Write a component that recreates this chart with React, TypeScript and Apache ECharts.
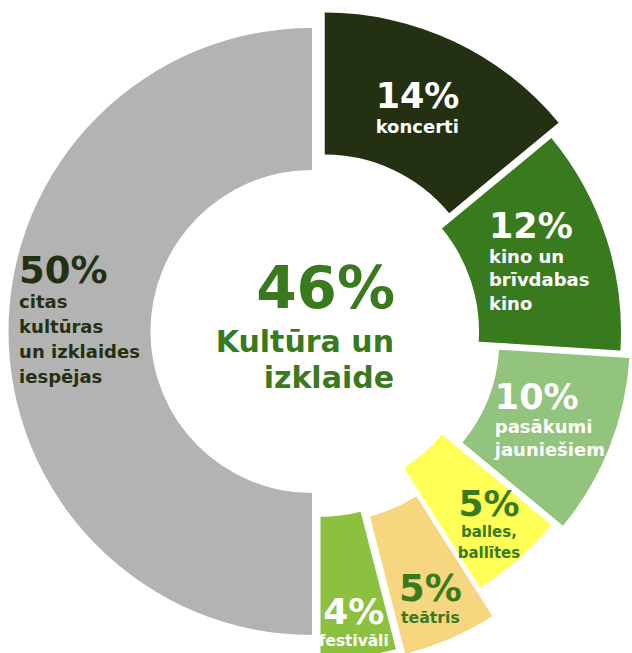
import React, { useEffect, useRef } from 'react';
import * as echarts from 'echarts';

// ---- data ----
const categories = [
  'koncerti',
  'kino un\nbrīvdabas\nkino',
  'pasākumi\njauniešiem',
  'balles,\nballītes',
  'teātris',
  'festivāli',
  'citas\nkultūras\nun izklaides\niespējas',
];
const shares = [14, 12, 10, 5, 5, 4, 50];
const centerShare = 46;
const centerTitle = ['Kultūra un', 'izklaide'];

// ---- styles ----
const colors = ['#243012', '#3a7a1f', '#93c47d', '#ffff55', '#f6d67e', '#8cc13f', '#b3b3b3'];
const labelColors = ['#ffffff', '#ffffff', '#ffffff', '#3a7a1f', '#3a7a1f', '#ffffff', '#243012'];
const offsets = [17, 0, 22, 0, 31, 24, 5.5];
const outerR = [303.5, 303.5, 292, 303.5, 303.5, 303.5, 303.5];
const lineAlign = ['left', 'left', 'left', 'center', 'center', 'center', 'left'];
const pctSize = [35, 35, 35, 36, 37, 36, 37];
const txtSize = [18, 18, 18, 15, 15.7, 15.4, 18];
const txtLH = [23.5, 23.5, 23, 20.7, 21.7, 21.3, 25];
const shift = [
  [-7.5, 5],
  [-2.3, 2.5],
  [-1.7, -4.5],
  [15.7, 15.8],
  [7.1, 23.3],
  [3.7, 33.2],
  [3, -11.5],
];
const FONT = '"DejaVu Sans", sans-serif';

function buildOption(): any {
  const series = shares.map((_, k) => {
    const [sx, sy] = shift[k];
    const padding = [Math.max(0, 2 * sy), Math.max(0, -2 * sx), Math.max(0, -2 * sy), Math.max(0, 2 * sx)];
    return {
      type: 'pie',
      silent: true,
      center: [317.5, 331.5],
      radius: [161.5, outerR[k]],
      startAngle: 90,
      clockwise: true,
      avoidLabelOverlap: false,
      selectedMode: 'single',
      selectedOffset: offsets[k],
      emphasis: { disabled: true },
      labelLine: { show: false },
      data: shares.map((v, i) => ({
        value: v,
        name: categories[i],
        selected: i === k,
        itemStyle: { color: i === k ? colors[i] : 'rgba(0,0,0,0)' },
        label:
          i === k
            ? {
                show: true,
                position: 'inside',
                padding,
                formatter: () =>
                  `{p|${shares[i]}%}\n` +
                  categories[i]
                    .split('\n')
                    .map((l) => `{t|${l}}`)
                    .join('\n'),
                rich: {
                  p: {
                    fontFamily: FONT,
                    fontWeight: 'bold',
                    fontSize: pctSize[i],
                    lineHeight: 37,
                    color: labelColors[i],
                    align: lineAlign[i],
                  },
                  t: {
                    fontFamily: FONT,
                    fontWeight: 'bold',
                    fontSize: txtSize[i],
                    lineHeight: txtLH[i],
                    color: labelColors[i],
                    align: lineAlign[i],
                  },
                },
              }
            : { show: false },
      })),
    };
  });

  const green = '#3a7a1f';
  return {
    animation: false,
    backgroundColor: '#ffffff',
    series,
    graphic: [
      {
        type: 'text',
        x: 395,
        y: 288.2,
        style: { text: `${centerShare}%`, font: `bold 58px ${FONT}`, fill: green, align: 'right', verticalAlign: 'middle' },
      },
      {
        type: 'text',
        x: 394,
        y: 341.3,
        style: { text: centerTitle[0], font: `bold 30px ${FONT}`, fill: green, align: 'right', verticalAlign: 'middle' },
      },
      {
        type: 'text',
        x: 394,
        y: 377.9,
        style: { text: centerTitle[1], font: `bold 30px ${FONT}`, fill: green, align: 'right', verticalAlign: 'middle' },
      },
    ],
  };
}

export default function App() {
  const ref = useRef<HTMLDivElement>(null);
  useEffect(() => {
    if (!ref.current) return;
    const chart = echarts.init(ref.current, undefined, { renderer: 'svg' });
    chart.setOption(buildOption());
    return () => chart.dispose();
  }, []);
  return (
    <div
      ref={ref}
      style={{ position: 'absolute', left: 0, top: 0, width: 632, height: 653, background: '#ffffff' }}
    />
  );
}
